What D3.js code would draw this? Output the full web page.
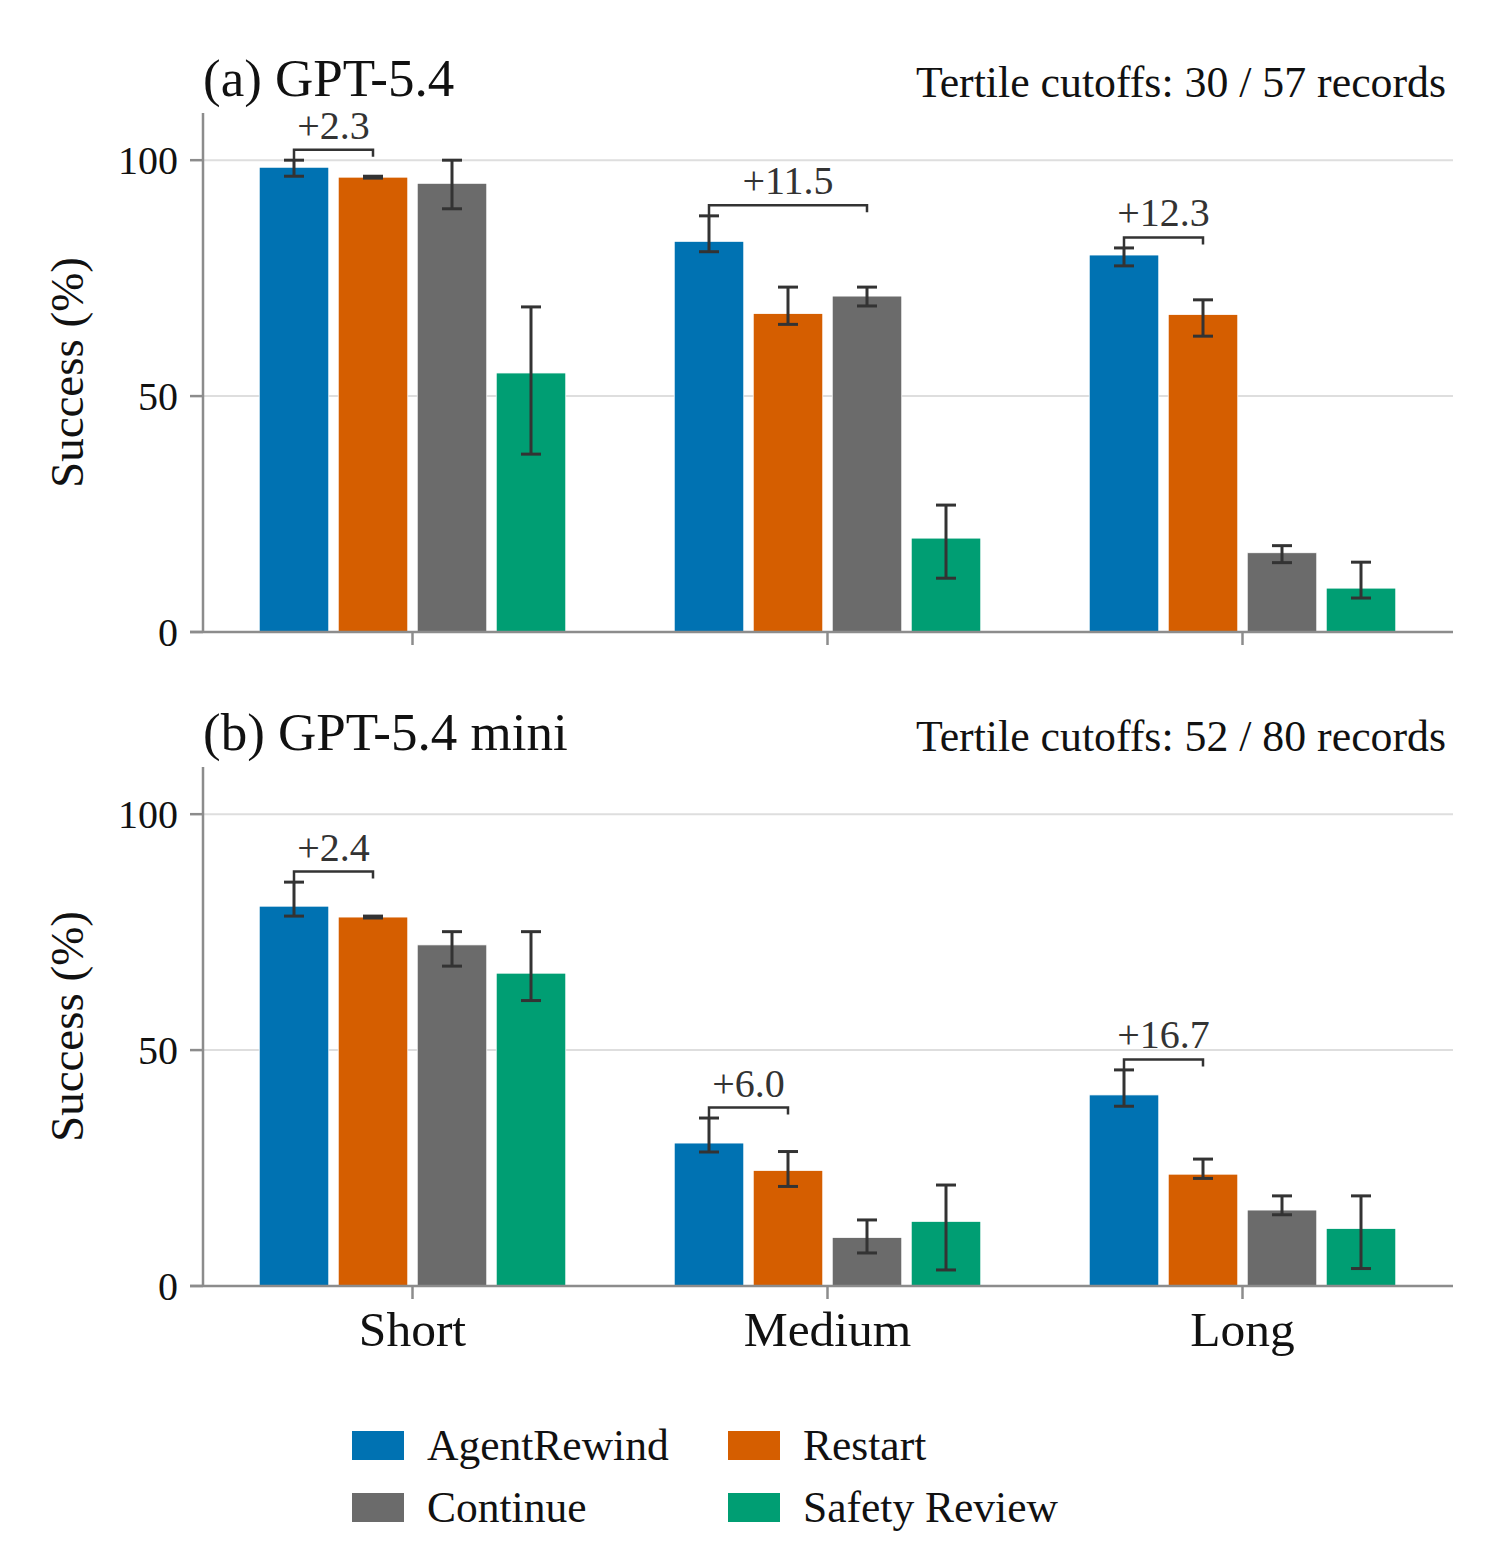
<!DOCTYPE html>
<html>
<head>
<meta charset="utf-8">
<script src="https://cdn.jsdelivr.net/npm/d3@7"></script>
<style>
  body { margin: 0; background: #fff; }
  text { font-family: "Liberation Serif", "Times New Roman", serif; }
</style>
</head>
<body>
<div id="chart"></div>
<script>
"use strict";

// data
const categories = ["Short", "Medium", "Long"];
const methods = ["AgentRewind", "Restart", "Continue", "Safety Review"];
const colors = ["#0072B2", "#D55E00", "#6b6b6b", "#009E73"];

// panel (a) GPT-5.4
const gptValues = [
  [98.5, 96.4, 95.1, 54.9],
  [82.8, 67.5, 71.2, 19.9],
  [79.9, 67.3, 16.8, 9.3],
];
const gptLow = [
  [96.6, 96.2, 89.7, 37.7],
  [80.6, 65.2, 69.1, 11.4],
  [77.6, 62.7, 14.7, 7.2],
];
const gptHigh = [
  [100.0, 96.6, 100.0, 68.9],
  [88.2, 73.1, 73.1, 26.9],
  [81.4, 70.4, 18.3, 14.8],
];
const gptDelta = ["+2.3", "+11.5", "+12.3"];
const gptVs = [1, 2, 1];

// panel (b) GPT-5.4 mini
const miniValues = [
  [80.5, 78.2, 72.3, 66.3],
  [30.3, 24.5, 10.3, 13.7],
  [40.5, 23.7, 16.1, 12.2],
];
const miniLow = [
  [78.4, 78.0, 67.8, 60.5],
  [28.4, 21.1, 7.0, 3.4],
  [38.1, 22.8, 15.1, 3.7],
];
const miniHigh = [
  [85.6, 78.4, 75.1, 75.1],
  [35.6, 28.5, 14.0, 21.4],
  [45.8, 26.9, 19.1, 19.1],
];
const miniDelta = ["+2.4", "+6.0", "+16.7"];
const miniVs = [1, 1, 1];

const yTicks = [0, 50, 100];

const panels = [
  { title: "(a) GPT-5.4", note: "Tertile cutoffs: 30 / 57 records", values: gptValues, low: gptLow, high: gptHigh, delta: gptDelta, vs: gptVs, top: 113, labels: false },
  { title: "(b) GPT-5.4 mini", note: "Tertile cutoffs: 52 / 80 records", values: miniValues, low: miniLow, high: miniHigh, delta: miniDelta, vs: miniVs, top: 767, labels: true },
];

const W = 1506, H = 1554;
const left = 203, right = 1453, plotH = 519;
const axisColor = "#8c8c8c", ink = "#333";

const svg = d3.select("#chart").append("svg")
  .attr("width", W).attr("height", H);

const x0 = d3.scaleBand().domain(categories).range([205, 1450]);
const x1 = d3.scaleBand().domain(methods).range([0, 316])
  .paddingInner(0.12).paddingOuter(0.06);
const groupOffset = (c) => x0(c) + x0.bandwidth() / 2 - 158;
const color = d3.scaleOrdinal().domain(methods).range(colors);

panels.forEach((p) => {
  const y = d3.scaleLinear().domain([0, 110]).range([p.top + plotH, p.top]);
  const g = svg.append("g");

  // grid
  g.selectAll(".grid").data(yTicks).enter().append("line")
    .attr("x1", left).attr("x2", right)
    .attr("y1", (d) => y(d)).attr("y2", (d) => y(d))
    .attr("stroke", "#dedede").attr("stroke-width", 2);

  // bars
  const rows = [];
  categories.forEach((c, ci) => methods.forEach((m, mi) => rows.push({
    c, m, ci, mi, v: p.values[ci][mi], lo: p.low[ci][mi], hi: p.high[ci][mi],
  })));

  g.selectAll(".bar").data(rows).enter().append("rect")
    .attr("x", (d) => groupOffset(d.c) + x1(d.m))
    .attr("y", (d) => y(d.v))
    .attr("width", x1.bandwidth())
    .attr("height", (d) => y(0) - y(d.v))
    .attr("fill", (d) => color(d.m))
    .attr("stroke", "#fff").attr("stroke-width", 0.8);

  // error bars
  const cx = (d) => groupOffset(d.c) + x1(d.m) + x1.bandwidth() / 2;
  const eb = g.selectAll(".err").data(rows).enter().append("g")
    .attr("stroke", ink).attr("stroke-width", 3);
  eb.append("line").attr("x1", cx).attr("x2", cx)
    .attr("y1", (d) => y(d.lo)).attr("y2", (d) => y(d.hi));
  eb.append("line").attr("x1", (d) => cx(d) - 10).attr("x2", (d) => cx(d) + 10)
    .attr("y1", (d) => y(d.lo)).attr("y2", (d) => y(d.lo));
  eb.append("line").attr("x1", (d) => cx(d) - 10).attr("x2", (d) => cx(d) + 10)
    .attr("y1", (d) => y(d.hi)).attr("y2", (d) => y(d.hi));

  // axes
  g.append("line").attr("x1", left).attr("x2", left)
    .attr("y1", p.top).attr("y2", y(0))
    .attr("stroke", axisColor).attr("stroke-width", 2.5);
  g.append("line").attr("x1", left - 13).attr("x2", right)
    .attr("y1", y(0)).attr("y2", y(0))
    .attr("stroke", axisColor).attr("stroke-width", 2.5);

  g.selectAll(".ytick").data(yTicks).enter().append("line")
    .attr("x1", left - 13).attr("x2", left)
    .attr("y1", (d) => y(d)).attr("y2", (d) => y(d))
    .attr("stroke", axisColor).attr("stroke-width", 2.5);
  g.selectAll(".ylab").data(yTicks).enter().append("text")
    .attr("x", left - 25).attr("y", (d) => y(d)).attr("dy", "0.35em")
    .attr("text-anchor", "end").attr("font-size", 40).attr("fill", "#111")
    .text((d) => d);

  g.selectAll(".xtick").data(categories).enter().append("line")
    .attr("x1", (d) => x0(d) + x0.bandwidth() / 2).attr("x2", (d) => x0(d) + x0.bandwidth() / 2)
    .attr("y1", y(0)).attr("y2", y(0) + 13)
    .attr("stroke", axisColor).attr("stroke-width", 2.5);

  if (p.labels) {
    g.selectAll(".xlab").data(categories).enter().append("text")
      .attr("x", (d) => x0(d) + x0.bandwidth() / 2).attr("y", y(0) + 60)
      .attr("text-anchor", "middle").attr("font-size", 49.5).attr("fill", "#111")
      .text((d) => d);
  }

  g.append("text")
    .attr("transform", `translate(83, ${p.top + plotH / 2}) rotate(-90)`)
    .attr("text-anchor", "middle").attr("font-size", 47).attr("fill", "#111")
    .text("Success (%)");

  // titles
  g.append("text").attr("x", left).attr("y", p.top - 17)
    .attr("font-size", 53).attr("fill", "#111").text(p.title);
  g.append("text").attr("x", 1446).attr("y", p.top - 16)
    .attr("text-anchor", "end").attr("font-size", 43.8).attr("fill", "#111").text(p.note);

  // improvement brackets
  categories.forEach((c, ci) => {
    const a = rows.find((r) => r.ci === ci && r.mi === 0);
    const b = rows.find((r) => r.ci === ci && r.mi === p.vs[ci]);
    const by = Math.min(y(a.hi), y(b.hi)) - 10.5;
    const xa = cx(a), xb = cx(b);
    g.append("path")
      .attr("d", `M${xa},${y(a.hi)}V${by}H${xb}V${by + 7}`)
      .attr("fill", "none").attr("stroke", ink).attr("stroke-width", 2.5);
    g.append("text").attr("x", (xa + xb) / 2).attr("y", by - 11)
      .attr("text-anchor", "middle").attr("font-size", 40).attr("fill", ink)
      .text(p.delta[ci]);
  });
});

// legend
const legend = svg.append("g");
const item = legend.selectAll(".item").data(methods).enter().append("g")
  .attr("transform", (d, i) => `translate(${352 + (i % 2) * 376}, ${1431 + Math.floor(i / 2) * 62})`);
item.append("rect").attr("width", 52).attr("height", 29).attr("fill", (d) => color(d));
item.append("text").attr("x", 75).attr("y", 29).attr("font-size", 43.5).attr("fill", "#111")
  .text((d) => d);
</script>
</body>
</html>
